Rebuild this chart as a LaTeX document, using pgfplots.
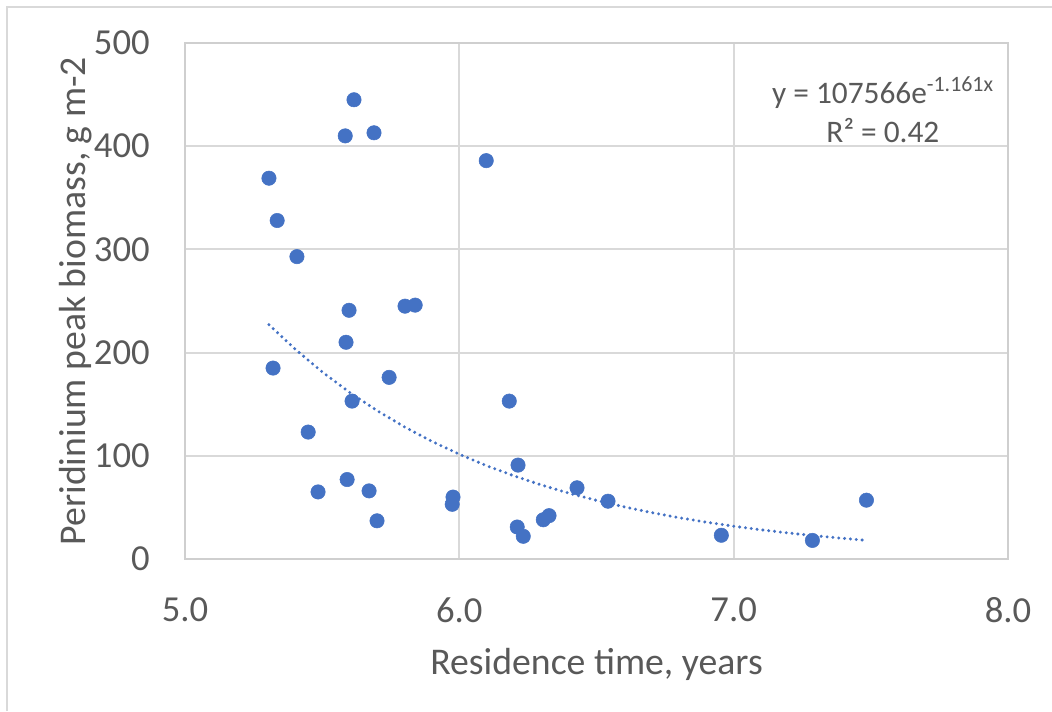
\documentclass[border=0pt]{standalone}
\usepackage{pgfplots}
\pgfplotsset{compat=1.18}
\usepackage{fontspec}
\setmainfont{Carlito}
\definecolor{ptblue}{HTML}{4472C4}
\definecolor{txtgray}{HTML}{595959}
\definecolor{gridgray}{HTML}{D9D9D9}
\definecolor{boxgray}{HTML}{CFCFCF}
\begin{document}
\begin{tikzpicture}
\path[use as bounding box] (0,0) rectangle (789pt,533.25pt);
\draw[gridgray, line width=1.5pt] (5.25pt,0) -- (5.25pt,528pt) -- (789pt,528pt);
\begin{axis}[
  at={(138.75pt,114pt)}, anchor=south west,
  scale only axis, width=617.25pt, height=387pt,
  xmin=5, xmax=8, ymin=0, ymax=500,
  xtick={5,6,7,8}, xticklabels={5.0,6.0,7.0,8.0},
  ytick={0,100,200,300,400,500},
  major tick length=0pt,
  grid=major,
  grid style={gridgray, line width=1.5pt},
  axis line style={boxgray, line width=1.5pt},
  /pgf/number format/assume math mode=true,
  ticklabel style={font=\fontsize{27.5}{32}\selectfont, text=txtgray},
  yticklabel style={anchor=east, inner sep=0pt, xshift=-26.25pt},
  xticklabel style={anchor=north, inner sep=0pt, yshift=-29pt},
  xlabel={Residence time, years},
  ylabel={Peridinium peak biomass, g m-2},
  label style={font=\fontsize{28.3}{33}\selectfont, text=txtgray, inner sep=0pt},
  xlabel style={at={(axis description cs:0.5,-0.2248)}, anchor=base},
  ylabel style={at={(axis description cs:-0.1215,0.5)}, anchor=base},
  clip=false,
]
\addplot[ptblue, line width=2.5pt, line cap=round, dash pattern=on 0pt off 4.4pt] coordinates {
(5.306,227.1) (5.4,203.7) (5.5,181.3) (5.6,161.5) (5.7,143.8) (5.8,128.0)
(5.9,114.0) (6.0,101.5) (6.1,90.36) (6.2,80.46) (6.3,71.64) (6.4,63.78)
(6.5,56.79) (6.6,50.57) (6.7,45.02) (6.8,40.09) (6.9,35.69) (7.0,31.78)
(7.1,28.30) (7.2,25.20) (7.3,22.44) (7.4,19.98) (7.484,18.1)
};
\addplot[only marks, mark=*, mark size=5.4pt, mark options={fill=ptblue, draw=ptblue}] coordinates {
(5.306,369) (5.336,328) (5.408,293) (5.321,185) (5.449,123) (5.485,65)
(5.616,445) (5.584,410) (5.689,413) (5.598,241) (5.587,210) (5.609,153)
(5.591,77) (5.671,66) (5.700,37) (5.744,176) (5.802,245) (5.839,246)
(6.098,386) (5.977,60) (5.974,53) (6.182,153) (6.214,91) (6.211,31)
(6.233,22) (6.306,38) (6.327,42) (6.429,69) (6.542,56) (6.955,23)
(7.287,18) (7.484,57)
};
\node[anchor=base, inner sep=0pt, text=txtgray, font=\fontsize{23.5}{28}\selectfont] at (axis description cs:0.848,0.882) {y = 107566e\textsuperscript{-1.161x}};
\node[anchor=base, inner sep=0pt, text=txtgray, font=\fontsize{23.5}{28}\selectfont] at (axis description cs:0.848,0.808) {R² = 0.42};
\end{axis}
\end{tikzpicture}
\end{document}
